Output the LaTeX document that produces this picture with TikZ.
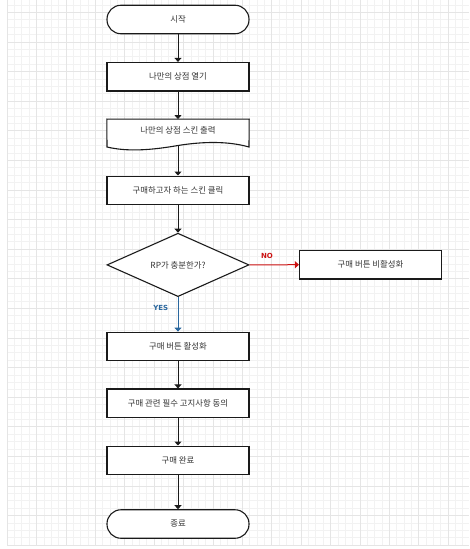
\documentclass[tikz,border=0pt]{standalone}
\usepackage{fontspec}
\newfontfamily\kr{Noto Sans CJK KR}
\newfontfamily\lab{DejaVu Sans}
\usetikzlibrary{arrows.meta,shapes.geometric}
\definecolor{txt}{HTML}{333333}
\definecolor{edge}{HTML}{1A1A1A}
\definecolor{nored}{HTML}{CC1111}
\definecolor{yesblue}{HTML}{2A679E}
\begin{document}
\begin{tikzpicture}[x=1pt,y=-1pt,
  gminor/.style={draw=black!5,line width=0.5pt},
  gmajor/.style={draw=black!10,line width=0.6pt},
  box/.style={draw=edge,line width=1.1pt,fill=white,minimum width=142pt,minimum height=28.5pt,inner sep=0pt,font=\kr\fontsize{8.4}{10}\selectfont,text=txt},
  term/.style={box,rounded corners=14pt},
  dec/.style={diamond,draw=edge,line width=1.1pt,fill=white,minimum width=142pt,minimum height=63.4pt,inner sep=0pt,font=\kr\fontsize{8.4}{10}\selectfont,text=txt},
  arr/.style={draw=edge,line width=1pt,-{Triangle[length=4pt,width=7pt]}},
  lbl/.style={font=\lab\bfseries\fontsize{7}{8}\selectfont,inner sep=0pt}
]
\useasboundingbox (0,0) rectangle (469,549);
\fill[white] (0,0) rectangle (469,549);
% grid
\foreach \i in {0,...,63} \draw[gminor] ({7+\i*7.35},0) -- ({7+\i*7.35},545);
\foreach \j in {0,...,73} \draw[gminor] (7,{545-\j*7.4}) -- (469,{545-\j*7.4});
\foreach \i in {0,...,15} \draw[gmajor] ({7+\i*29.4},0) -- ({7+\i*29.4},545);
\foreach \j in {0,...,18} \draw[gmajor] (7,{545-\j*29.6}) -- (469,{545-\j*29.6});

% nodes
\node[term] (start) at (178,19.5) {시작};
\node[box] (open) at (178,76.7) {나만의 상점 열기};
\node[minimum width=142pt,minimum height=28.5pt,inner sep=0pt] (doc) at (178,133.5) {};
\draw[draw=edge,line width=1.1pt,fill=white]
  (doc.north west) -- (doc.north east) -- (249,147)
  .. controls (228,141) and (203,141.5) .. (178,145.5)
  .. controls (152,150) and (128,152) .. (107,147) -- cycle;
\node[font=\kr\fontsize{8.4}{10}\selectfont,text=txt] at (178,130) {나만의 상점 스킨 출력};
\node[box] (click) at (178,190.3) {구매하고자 하는 스킨 클릭};
\node[dec] (rp) at (178,264.9) {RP가 충분한가?};
\node[box] (off) at (370.5,264.7) {구매 버튼 비활성화};
\node[box] (on) at (178,346.4) {구매 버튼 활성화};
\node[box] (agree) at (178,403.2) {구매 관련 필수 고지사항 동의};
\node[box] (done) at (178,460.3) {구매 완료};
\node[term] (end) at (178,524) {종료};

% connectors
\draw[arr] (start) -- (open);
\draw[arr] (open) -- (doc.north);
\draw[arr] (178,145.5) -- (click);
\draw[arr] (click) -- (rp);
\draw[arr,draw=nored] (rp.east) -- (off.west);
\draw[arr,draw=yesblue] (rp.south) -- (on.north);
\draw[arr] (on) -- (agree);
\draw[arr] (agree) -- (done);
\draw[arr] (done) -- (end);

\node[lbl,text=nored] (nolbl) at (267,255.6) {NO};
\node[lbl,text=yesblue] (yeslbl) at (160.7,308.4) {YES};
\end{tikzpicture}
\end{document}
